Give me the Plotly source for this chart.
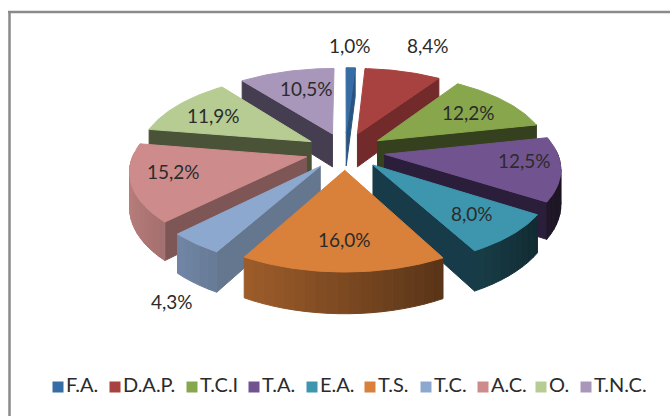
import math
import plotly.graph_objects as go

categories = ["F.A.", "D.A.P.", "T.C.I", "T.A.", "E.A.", "T.S.", "T.C.", "A.C.", "O.", "T.N.C."]
values = [1.0, 8.4, 12.2, 12.5, 8.0, 16.0, 4.3, 15.2, 11.9, 10.5]
top_colors = ["#376DA5", "#A84240", "#88A64C", "#71548F", "#3D96AE",
              "#D9803A", "#8DA8CE", "#CD8C8B", "#B6CC92", "#A897BA"]
wall_colors = ["#2A5480", "#722B2A", "#35401F", "#2A1E3A", "#173B48",
               "#7A4A20", "#64778F", "#7D5655", "#4A5238", "#453D50"]
draw_order = [9, 0, 1, 2, 8, 3, 7, 4, 6, 5]
label_pos = [(350, 45), (428, 45), (468, 112), (524, 160), (472, 213),
             (344, 239), (172, 301), (173, 171), (213, 115), (306, 88)]
legend_x = [52, 109, 186, 248, 306, 364, 420, 477, 535, 580]

CX, CY, A, B, C, K, EXPL = 345, 151, 172, 80, 34, 0.15, 0.233
FONT = "Lato"
TEXT = "#2B2B2B"


def proj(X, Y, z=0.0):
    w = 1 / (1 + K * Y)
    return CX + A * X * w, CY - B * Y * w + z * C * w


def scale(col, f):
    r, g, b = int(col[1:3], 16), int(col[3:5], 16), int(col[5:7], 16)
    return "#%02x%02x%02x" % (int(r * f), int(g * f), int(b * f))


def poly(fig, pts, color):
    xs = [p[0] for p in pts] + [pts[0][0]]
    ys = [p[1] for p in pts] + [pts[0][1]]
    fig.add_trace(go.Scatter(x=xs, y=ys, mode="lines", fill="toself", fillcolor=color,
                             line=dict(color=color, width=1), hoverinfo="skip", showlegend=False))


fig = go.Figure()

# slice angles follow from the values
total = sum(values)
starts, ends, acc = [], [], 0.0
for v in values:
    starts.append(acc / total * 2 * math.pi)
    acc += v
    ends.append(acc / total * 2 * math.pi)

for i in draw_order:
    t1, t2 = starts[i], ends[i]
    mid = (t1 + t2) / 2
    ox, oy = EXPL * math.sin(mid), EXPL * math.cos(mid)
    rim = lambda t: (ox + math.sin(t), oy + math.cos(t))
    # radial walls
    if math.sin(t1) < 0:
        ex, ey = rim(t1)
        poly(fig, [proj(ox, oy), proj(ex, ey), proj(ex, ey, 1), proj(ox, oy, 1)], wall_colors[i])
    if math.sin(t2) > 0:
        ex, ey = rim(t2)
        poly(fig, [proj(ox, oy), proj(ex, ey), proj(ex, ey, 1), proj(ox, oy, 1)], wall_colors[i])
    # outer rim, shaded left to right
    n = max(2, int((t2 - t1) / math.radians(3)))
    for s in range(n):
        a = t1 + (t2 - t1) * s / n
        b = t1 + (t2 - t1) * (s + 1) / n
        if math.cos((a + b) / 2) < 0.05:
            f = 0.57 - 0.33 * math.sin((a + b) / 2)
            xa, ya = rim(a)
            xb, yb = rim(b)
            poly(fig, [proj(xa, ya), proj(xb, yb), proj(xb, yb, 1), proj(xa, ya, 1)],
                 scale(top_colors[i], f))
    # top face
    m = max(2, int((t2 - t1) / math.radians(1)))
    pts = [proj(ox, oy)] + [proj(*rim(t1 + (t2 - t1) * s / m)) for s in range(m + 1)]
    poly(fig, pts, top_colors[i])

# data labels
for v, (lx, ly) in zip(values, label_pos):
    fig.add_annotation(x=lx, y=ly, text=f"{v:.1f}%".replace(".", ","), showarrow=False,
                       font=dict(family=FONT, size=19, color=TEXT))

# legend row
for name, color, lx in zip(categories, top_colors, legend_x):
    fig.add_trace(go.Scatter(x=[lx + 6], y=[387], mode="markers+text", name=name, text=[name],
                             textposition="middle right", hoverinfo="skip", showlegend=False,
                             marker=dict(symbol="square", size=11, color=color),
                             textfont=dict(family=FONT, size=20, color=TEXT)))

# chart frame: only the top and left edges are inside the picture
fig.add_shape(type="line", x0=8, y0=12, x1=670, y1=12, line=dict(color="#8A8A8A", width=2.5))
fig.add_shape(type="line", x0=9.5, y0=11, x1=9.5, y1=416, line=dict(color="#8A8A8A", width=2.5))

fig.update_layout(width=670, height=416, margin=dict(l=0, r=0, t=0, b=0),
                  paper_bgcolor="white", plot_bgcolor="white", showlegend=False,
                  xaxis=dict(range=[0, 670], visible=False, fixedrange=True),
                  yaxis=dict(range=[416, 0], visible=False, fixedrange=True))
fig.write_html("out.html", post_script="document.body.style.margin='0';",
               config={"displayModeBar": False})
